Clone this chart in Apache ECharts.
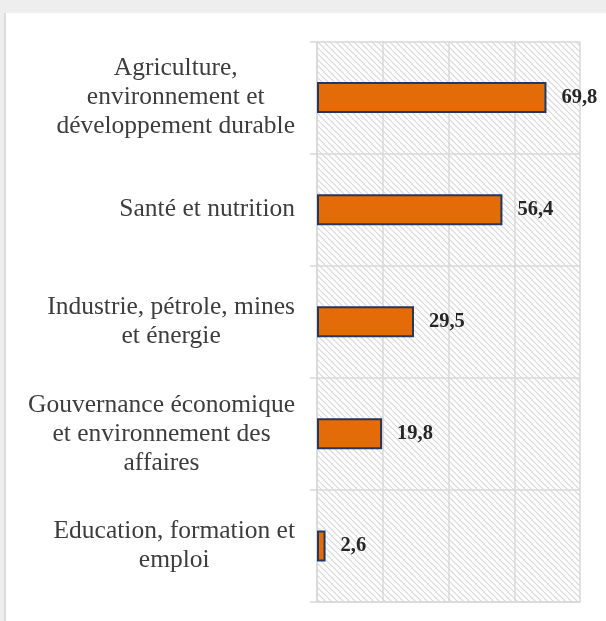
<!DOCTYPE html>
<html>
<head>
<meta charset="utf-8">
<script src="https://cdn.jsdelivr.net/npm/echarts@6/dist/echarts.min.js"></script>
<style>
  html, body { margin: 0; padding: 0; width: 606px; height: 621px; background: #eeeeee; overflow: hidden; }
  #frame { position: absolute; left: 4px; top: 13px; right: 0; bottom: 0; background: #ffffff; border-left: 2px solid #dcdcdc; }
  #chart { position: absolute; left: 0; top: 0; width: 606px; height: 621px; }
</style>
</head>
<body>
<div id="frame"></div>
<div id="chart"></div>
<script>
const categories = [
  "Agriculture,\nenvironnement et\ndéveloppement durable",
  "Santé et nutrition",
  "Industrie, pétrole, mines\net énergie",
  "Gouvernance économique\net environnement des\naffaires",
  "Education, formation et\nemploi"
];
const values = [69.8, 56.4, 29.5, 19.8, 2.6];
const axisMin = 0, axisMax = 80, axisInterval = 20;

// diagonal hatch pattern
const tile = document.createElement('canvas');
tile.width = 6; tile.height = 6;
const c = tile.getContext('2d');
c.fillStyle = '#ffffff';
c.fillRect(0, 0, 6, 6);
c.strokeStyle = '#d6d6d6';
c.lineWidth = 1.1;
c.beginPath();
c.moveTo(-1, -1); c.lineTo(7, 7);
c.moveTo(-4, 2); c.lineTo(1, 7);
c.moveTo(5, -1); c.lineTo(10, 4);
c.stroke();
const hatch = { image: tile, repeat: 'repeat' };

const serif = '"Liberation Serif", "DejaVu Serif", serif';
const chart = echarts.init(document.getElementById('chart'), null, { renderer: 'canvas' });
chart.setOption({
  backgroundColor: 'transparent',
  animation: false,
  grid: { left: 317, right: 26, top: 41.5, bottom: 19, show: true, borderWidth: 0, backgroundColor: hatch },
  xAxis: {
    type: 'value', min: axisMin, max: axisMax, interval: axisInterval,
    axisLabel: { show: false }, axisTick: { show: false },
    axisLine: { show: true, lineStyle: { color: '#d9d9d9', width: 1.5 } },
    splitLine: { show: true, lineStyle: { color: '#d9d9d9', width: 1.5 } }
  },
  yAxis: {
    type: 'category', data: categories, inverse: true,
    axisLine: { show: true, lineStyle: { color: '#d9d9d9', width: 1.5 } },
    axisTick: { show: true, length: 7, lineStyle: { color: '#d9d9d9', width: 1.5 } },
    splitLine: { show: true, lineStyle: { color: '#d9d9d9', width: 1.5 } },
    axisLabel: {
      margin: 22,
      formatter: v => v.split('\n').map(s => '{c|' + s + '}').join('\n'),
      rich: { c: { align: 'center', fontFamily: serif, fontSize: 25.5, lineHeight: 29, color: '#3d3d3d' } }
    }
  },
  series: [{
    type: 'bar', data: values, barWidth: 31,
    itemStyle: { color: '#e36c09', borderColor: '#1f3864', borderWidth: 2 },
    label: {
      show: true, position: 'right', distance: 15,
      fontFamily: serif, fontSize: 20.5, fontWeight: 'bold', color: '#262626',
      formatter: p => String(p.value).replace('.', ',')
    }
  }]
});
</script>
</body>
</html>
